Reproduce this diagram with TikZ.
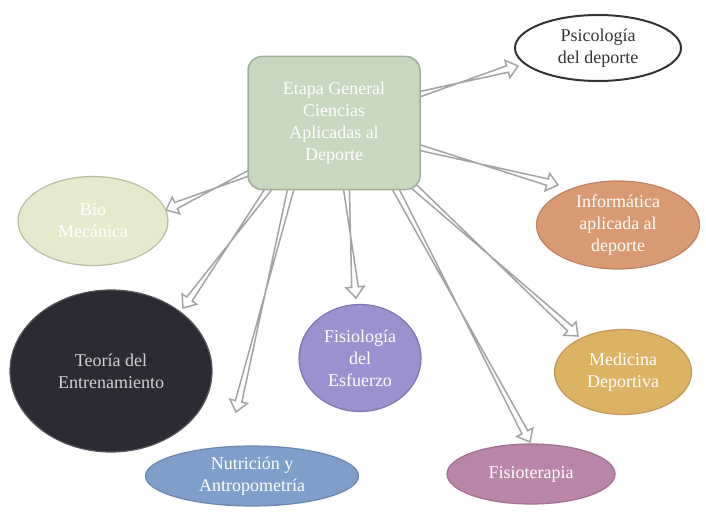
\documentclass[tikz,border=0pt]{standalone}
\usepackage{fontspec}
\setmainfont{Liberation Serif}
\usetikzlibrary{calc,shapes.geometric}
\definecolor{cgreen}{HTML}{C6D8BE}
\definecolor{cgreenb}{HTML}{A0AE9A}
\definecolor{cbio}{HTML}{E5E9CD}
\definecolor{cbiob}{HTML}{B9BEA2}
\definecolor{cinf}{HTML}{D99A73}
\definecolor{cinfb}{HTML}{BE8262}
\definecolor{cteo}{HTML}{2B2B33}
\definecolor{cteob}{HTML}{55555C}
\definecolor{cfis}{HTML}{9C90CF}
\definecolor{cfisb}{HTML}{7F73B2}
\definecolor{cmed}{HTML}{DCB263}
\definecolor{cmedb}{HTML}{C19A52}
\definecolor{cnut}{HTML}{7F9EC9}
\definecolor{cnutb}{HTML}{6A87B0}
\definecolor{cter}{HTML}{B985A8}
\definecolor{cterb}{HTML}{A06F90}
\definecolor{carrow}{HTML}{A3A3A3}
\tikzset{
  oval/.style={ellipse, draw, line width=1.2pt, inner sep=0pt, align=center,
    text=white, font=\fontsize{18}{22}\selectfont},
  hollow/.style={draw=carrow, fill=white, line width=1.5pt, line join=miter},
}
\begin{document}
\begin{tikzpicture}[x=1pt,y=-1pt]
\useasboundingbox (0,0) rectangle (706,513);
\fill[white] (0,0) rectangle (706,513);
% arrow ends
\coordinate (s1) at (410,97);  \coordinate (e1) at (518,66);
\coordinate (s2) at (410,145); \coordinate (e2) at (558,185);
\coordinate (s3) at (256,170); \coordinate (e3) at (166,210);
\coordinate (s4) at (272,184); \coordinate (e4) at (183,308);
\coordinate (s5) at (292,184); \coordinate (e5) at (236,412);
\coordinate (s6) at (346,184); \coordinate (e6) at (356,298);
\coordinate (s7) at (393,184); \coordinate (e7) at (530,442);
\coordinate (s8) at (408,181); \coordinate (e8) at (578,336);
\foreach \i in {1,...,8} {
  \coordinate (n) at ($(e\i)!11pt!(s\i)$);
  \draw[hollow] ($(s\i)!3.3pt!90:(e\i)$) -- ($(n)!3.3pt!-90:(e\i)$)
    -- ($(n)!9pt!-90:(e\i)$) -- (e\i) -- ($(n)!9pt!90:(e\i)$)
    -- ($(n)!3.3pt!90:(e\i)$) -- ($(s\i)!3.3pt!-90:(e\i)$) -- cycle;
}
% central box
\node[draw=cgreenb, fill=cgreen, line width=1.5pt, rounded corners=14pt,
  minimum width=172pt, minimum height=133pt, inner sep=0pt, align=center,
  text=white, font=\fontsize{18}{22}\selectfont] (c) at (334,123)
  {Etapa General\\Ciencias\\Aplicadas al\\Deporte};
% ellipses
\node[oval, draw=black!80, fill=white, line width=2pt, text=black!80,
  minimum width=166pt, minimum height=66pt] (psi) at (598,48) {Psicología\\del deporte};
\node[oval, draw=cbiob, fill=cbio, minimum width=150pt, minimum height=89pt] (bio) at (93,221) {Bio\\Mecánica};
\node[oval, draw=cinfb, fill=cinf, minimum width=163pt, minimum height=88pt] (inf) at (618,225) {Informática\\aplicada al\\deporte};
\node[oval, draw=cteob, fill=cteo, text=black!18, minimum width=202pt, minimum height=162pt] (teo) at (111,371) {Teoría del\\Entrenamiento};
\node[oval, draw=cfisb, fill=cfis, minimum width=122pt, minimum height=107pt] (fis) at (360,358) {Fisiología\\del\\Esfuerzo};
\node[oval, draw=cmedb, fill=cmed, minimum width=137pt, minimum height=85pt] (med) at (623,372) {Medicina\\Deportiva};
\node[oval, draw=cnutb, fill=cnut, minimum width=213pt, minimum height=60pt] (nut) at (252,476) {Nutrición y\\Antropometría};
\node[oval, draw=cterb, fill=cter, minimum width=168pt, minimum height=60pt] (ter) at (531,474) {Fisioterapia};
\end{tikzpicture}
\end{document}
